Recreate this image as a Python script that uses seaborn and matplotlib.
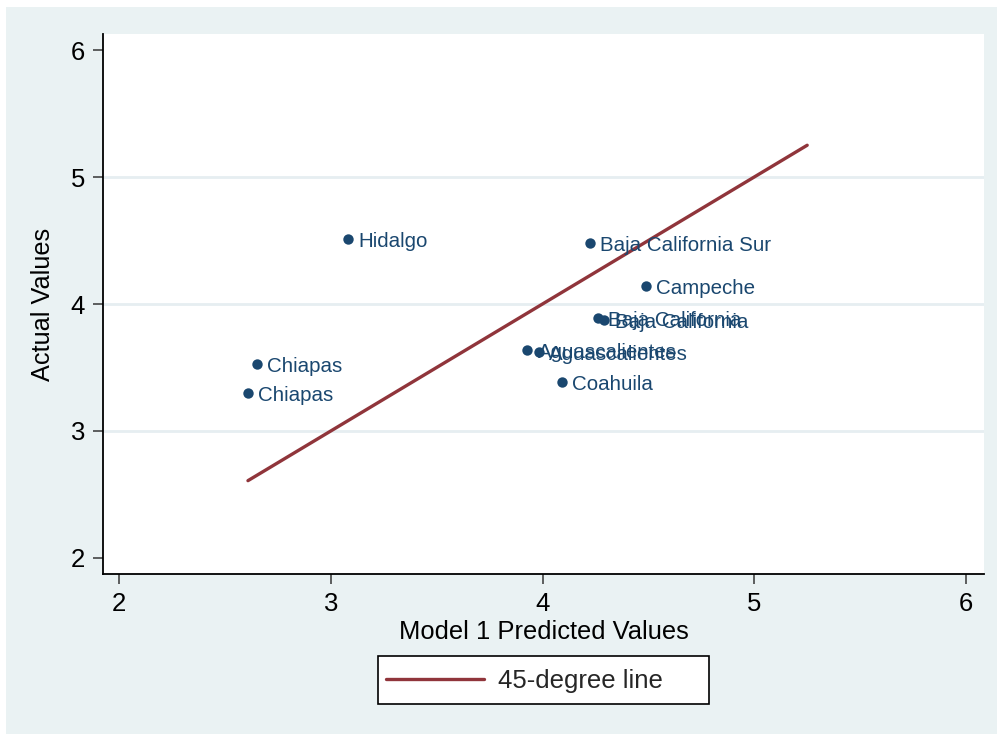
import matplotlib
matplotlib.use("Agg")
import matplotlib.pyplot as plt
import seaborn as sns
import pandas as pd
from matplotlib.patches import Rectangle

# Observations: state, predicted (model 1) and actual values
states = ["Hidalgo", "Baja California Sur", "Campeche", "Baja California",
          "Baja California", "Aguascalientes", "Aguascalientes", "Coahuila",
          "Chiapas", "Chiapas"]
predicted = [3.081, 4.224, 4.489, 4.262, 4.292, 3.927, 3.983, 4.092, 2.652, 2.609]
actual = [4.512, 4.480, 4.142, 3.886, 3.874, 3.638, 3.622, 3.386, 3.528, 3.299]

# 45-degree reference line end points
line_ends = [2.609, 5.25]

x_ticks = [2, 3, 4, 5, 6]
y_ticks = [2, 3, 4, 5, 6]

NAVY = "#1A476F"
MAROON = "#90353B"
BG = "#EAF2F3"
GRID = "#E6EEF1"

sns.set_theme(style="white")
plt.rcParams["font.family"] = ["Liberation Sans", "DejaVu Sans"]

fig = plt.figure(figsize=(9.97, 7.34), dpi=100)
fig.patch.set_facecolor("white")
fig.patches.append(Rectangle((6 / 997, 0), 1, 1 - 7 / 734, transform=fig.transFigure,
                             facecolor=BG, edgecolor="none", zorder=-10))

ax = fig.add_axes([103 / 997, 160 / 734, (984 - 103) / 997, (574 - 34) / 734])
ax.set_facecolor("white")

pts = pd.DataFrame({"state": states, "predicted": predicted, "actual": actual})
line_df = pd.DataFrame({"x": line_ends, "y": line_ends})

for yv in [3, 4, 5]:
    ax.axhline(yv, color=GRID, lw=2, zorder=0)

sns.scatterplot(data=pts, x="predicted", y="actual", ax=ax, color=NAVY, s=56,
                edgecolor=NAVY, linewidth=0, zorder=3, legend=False)
for s, xv, yv in zip(states, predicted, actual):
    ax.annotate(s, (xv, yv), xytext=(7.5, -1.5), textcoords="offset points",
                va="center", ha="left", fontsize=14.8, color=NAVY, zorder=4)

sns.lineplot(data=line_df, x="x", y="y", ax=ax, color=MAROON, lw=2.4,
             label="45-degree line", zorder=2, solid_capstyle="round")

ax.set_xlim(1.9244, 6.085)
ax.set_ylim(1.874, 6.126)
ax.set_xticks(x_ticks)
ax.set_yticks(y_ticks)
ax.set_xticklabels([str(v) for v in x_ticks])
ax.set_yticklabels([str(v) for v in y_ticks])
ax.tick_params(axis="both", direction="out", length=7, width=1.2, color="#444444",
               labelsize=18.5, labelcolor="black", pad=6, bottom=True, left=True)

for side in ["top", "right"]:
    ax.spines[side].set_visible(False)
for side in ["left", "bottom"]:
    ax.spines[side].set_color("black")
    ax.spines[side].set_linewidth(1.3)

ax.set_xlabel("Model 1 Predicted Values", fontsize=18.4, color="black", labelpad=3)
ax.set_ylabel("Actual Values", fontsize=18.2, color="black", labelpad=11)

# Legend: frameless entries inside a hand-placed box
ax.legend_.remove()
handles, labels = ax.get_legend_handles_labels()
fig.patches.append(Rectangle((378 / 997, 1 - 704 / 734), 331 / 997, 48 / 734,
                             transform=fig.transFigure, facecolor="white",
                             edgecolor="black", linewidth=1.2, zorder=1))
leg = fig.legend(handles, labels, loc="center left",
                 bbox_to_anchor=(386 / 997, 1 - 681 / 734),
                 fontsize=18.5, frameon=False, handlelength=3.8,
                 handletextpad=0.55, borderpad=0, borderaxespad=0)
leg.set_zorder(5)

fig.savefig("out.png", dpi=100, facecolor=fig.get_facecolor())
